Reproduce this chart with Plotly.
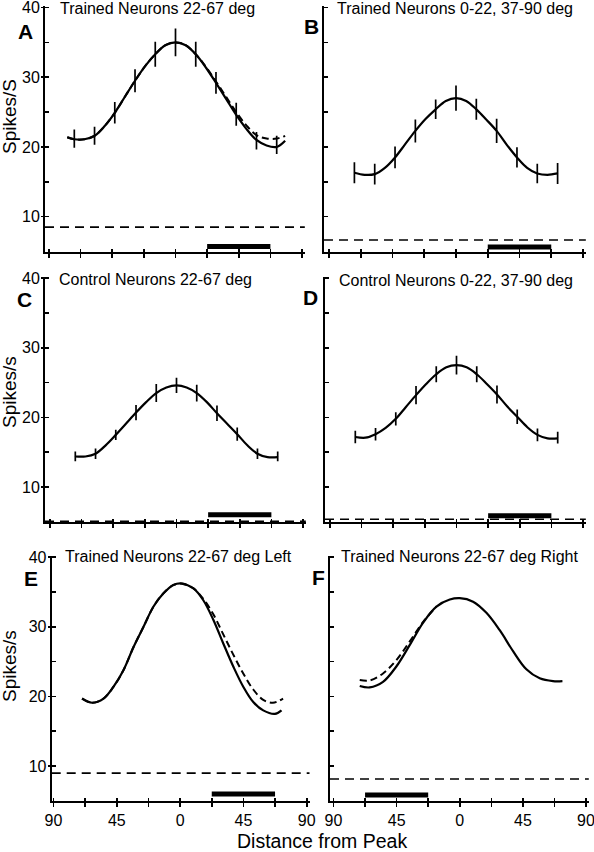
import plotly.graph_objects as go

W, H = 594, 852
FONT = "Liberation Sans, Arial, Helvetica, sans-serif"

# ---------------- data ----------------
angles = [-72, -57.6, -43.2, -28.8, -14.4, 0, 14.4, 28.8, 43.2, 57.6, 72]
fit_x = [-72, -64.8, -57.6, -50.4, -43.2, -36, -28.8, -21.6, -14.4, -7.2, 0,
         7.2, 14.4, 21.6, 28.8, 36, 43.2, 50.4, 57.6, 64.8, 72]

a_means = [21.2, 21.6, 24.9, 29.5, 33.3, 35.0, 33.3, 29.2, 24.7, 20.9, 20.3]
a_err = [1.3, 1.3, 1.55, 1.65, 1.8, 2.0, 1.8, 1.55, 1.65, 1.25, 1.3]
a_fit_x = [-77] + fit_x + [78]
a_fit = [21.4, 21.1, 21.1, 21.6, 23.0, 24.9, 27.2, 29.5, 31.6, 33.3, 34.6, 35.0,
         34.6, 33.3, 31.4, 29.2, 26.9, 24.6, 22.6, 21.0, 20.2, 20.0, 20.9]
a_alt = [21.4, 21.1, 21.1, 21.6, 23.0, 24.9, 27.2, 29.5, 31.6, 33.3, 34.6, 35.0,
         34.6, 33.3, 31.5, 29.4, 27.2, 25.0, 23.1, 21.7, 21.2, 21.2, 21.6]

b_means = [16.3, 16.1, 18.5, 22.3, 25.4, 27.0, 25.4, 22.3, 18.5, 16.2, 16.2]
b_err = [1.5, 1.5, 1.55, 1.65, 1.4, 1.8, 1.5, 1.75, 1.45, 1.4, 1.5]
b_fit = [16.3, 16.0, 16.1, 17.0, 18.5, 20.4, 22.3, 24.0, 25.4, 26.6, 27.0,
         26.6, 25.4, 23.9, 22.3, 20.3, 18.5, 17.0, 16.2, 16.0, 16.2]

c_means = [14.4, 14.8, 17.5, 20.7, 23.5, 24.6, 23.5, 20.6, 17.6, 14.8, 14.4]
c_err = [0.7, 0.75, 0.75, 1.1, 1.3, 1.1, 1.2, 1.1, 0.95, 0.75, 0.7]
c_fit = [14.4, 14.4, 14.8, 16.0, 17.5, 19.1, 20.7, 22.2, 23.5, 24.3, 24.6,
         24.3, 23.5, 22.2, 20.6, 19.1, 17.6, 16.0, 14.8, 14.3, 14.3]

d_means = [17.2, 17.6, 19.8, 23.2, 26.2, 27.5, 26.2, 23.3, 20.1, 17.5, 17.1]
d_err = [0.9, 0.9, 0.95, 1.3, 1.15, 1.35, 1.15, 1.3, 1.05, 0.9, 0.85]
d_fit = [17.2, 17.1, 17.6, 18.5, 19.8, 21.5, 23.2, 24.8, 26.2, 27.2, 27.5,
         27.2, 26.2, 24.8, 23.3, 21.6, 20.1, 18.6, 17.5, 17.0, 17.0]

e_fit_x = [-69.7, -62.6, -54.4, -47.3, -40.2, -33.1, -26.0, -18.9, -11.8, -4.7, 1.2,
           9.5, 16.5, 23.6, 30.7, 37.8, 44.9, 52.0, 59.1, 67.4, 72.1]
e_fit = [19.7, 19.1, 19.7, 21.4, 23.8, 27.1, 30.0, 32.9, 34.8, 36.0, 36.2,
         35.5, 33.8, 31.0, 27.6, 24.3, 21.4, 19.2, 18.0, 17.5, 18.0]
e_alt_x = [-69.7, -62.6, -54.4, -47.3, -40.2, -33.1, -26.0, -18.9, -11.8, -4.7, 1.2,
           9.5, 16.5, 23.6, 30.7, 37.8, 44.9, 52.0, 59.1, 66.0, 73.2]
e_alt = [19.7, 19.1, 19.7, 21.4, 23.8, 27.1, 30.0, 32.9, 34.8, 36.0, 36.2,
         35.5, 34.0, 31.8, 28.9, 26.0, 23.3, 21.0, 19.5, 19.1, 19.7]

f_fit_x = [-71.3, -64.2, -54.7, -45.2, -35.6, -26.1, -16.6, -7.1, 0, 9.5, 19.0,
           28.5, 38.0, 47.5, 57.0, 66.5, 73.2]
f_fit = [21.5, 21.3, 22.1, 24.3, 27.4, 30.6, 32.9, 33.9, 34.1, 33.6, 32.0,
         29.5, 26.5, 23.9, 22.6, 22.2, 22.2]
f_alt_x = [-71.3, -64.2, -54.7, -45.2, -35.6, -26.1, -16.6]
f_alt = [22.35, 22.3, 23.3, 25.2, 27.9, 30.7, 32.9]

titles = ["Trained Neurons 22-67 deg", "Trained Neurons 0-22, 37-90 deg",
          "Control Neurons 22-67 deg", "Control Neurons 0-22, 37-90 deg",
          "Trained Neurons 22-67 deg Left", "Trained Neurons 22-67 deg Right"]
letters = ["A", "B", "C", "D", "E", "F"]
ylabels = ["Spikes/S", "Spikes/s", "Spikes/s"]
xlabel = "Distance from Peak"
baselines = [8.5, 6.65, 5.1, 5.4, 9.0, 8.15]
stim_ranges = [[22.5, 67.5], [22.5, 67.5], [22.5, 67.5], [22.5, 67.5],
               [22.5, 67.5], [-67.5, -22.5]]
stim_levels = [5.7, 5.65, 6.05, 5.9, 6.0, 5.85]
x_tickvals = [-90, -67.5, -45, -22.5, 0, 22.5, 45, 67.5, 90]
x_ticktext = ["90", "", "45", "", "0", "", "45", "", "90"]
y_tickvals = [10, 15, 20, 25, 30, 35, 40]
y_ticktext = ["10", "", "20", "", "30", "", "40"]
y_major = [10, 20, 30, 40]

errbars = [(a_means, a_err), (b_means, b_err), (c_means, c_err), (d_means, d_err), None, None]
fits = [(a_fit_x, a_fit), (fit_x, b_fit), (fit_x, c_fit), (fit_x, d_fit),
        (e_fit_x, e_fit), (f_fit_x, f_fit)]
alts = [(a_fit_x, a_alt), None, None, None, (e_alt_x, e_alt), (f_alt_x, f_alt)]

# ---------------- layout geometry (pixels) ----------------
# (y-axis x position, x of -90 tick, x of +90 tick, row)
geo = [(45, 49, 302, 0), (324, 329, 583, 0),
       (45, 50, 303, 1), (325, 330, 583, 1),
       (51.7, 53.5, 306.7, 2), (330, 333.5, 586, 2)]
row_y5 = [251.5, 522, 801]
PXU = 6.97
YTOP = 40.2

fig = go.Figure()
layout = {}


def aname(kind, n):
    return kind if n == 1 else f"{kind}{n}"


for i in range(6):
    n = i + 1
    xid, yid = aname("x", n), aname("y", n)
    ox, oy = n + 6, n + 6
    yx, xm, xp, row = geo[i]
    s = (xp - xm) / 180.0
    xr = [-90 - (xm - yx) / s, 92]
    xdom = [yx / W, (xp + 2 * s) / W]
    y5 = row_y5[row]
    ytop_px = y5 - (YTOP - 5) * PXU
    ydom = [1 - y5 / H, 1 - ytop_px / H]
    bottom = row == 2
    left = i % 2 == 0

    layout[aname("xaxis", n)] = dict(
        domain=xdom, range=xr, anchor=yid, showgrid=False, zeroline=False,
        automargin=False, ticklabeloverflow="allow",
        showline=True, linecolor="black", linewidth=2,
        tickmode="array", tickvals=x_tickvals, ticktext=x_ticktext,
        ticks="outside", ticklen=4, tickwidth=1.6, tickcolor="black",
        showticklabels=bottom, tickfont=dict(size=16, color="black", family=FONT))
    layout[aname("yaxis", n)] = dict(
        domain=ydom, range=[5, YTOP], anchor=xid, showgrid=False, zeroline=False,
        automargin=False, ticklabeloverflow="allow",
        showline=True, linecolor="black", linewidth=2,
        tickmode="array", tickvals=y_tickvals, ticktext=y_ticktext,
        ticks="inside", ticklen=4, tickwidth=1.6, tickcolor="black",
        showticklabels=left, tickfont=dict(size=16, color="black", family=FONT))
    # overlay axes giving the crossing tick marks
    layout[f"xaxis{ox}"] = dict(
        overlaying=xid, anchor=yid, range=xr, showgrid=False, zeroline=False,
        automargin=False,
        showline=False, tickmode="array", tickvals=x_tickvals, ticks="inside",
        ticklen=3, tickwidth=1.6, tickcolor="black", showticklabels=False)
    layout[f"yaxis{oy}"] = dict(
        overlaying=yid, anchor=xid, range=[5, YTOP], showgrid=False, zeroline=False,
        automargin=False,
        showline=False, tickmode="array", tickvals=y_major if left else [],
        ticks="outside" if left else "", ticklen=3, tickwidth=1.6, tickcolor="black",
        showticklabels=False)
    fig.add_trace(go.Scatter(x=[], y=[], xaxis=f"x{ox}", yaxis=f"y{oy}",
                             showlegend=False, hoverinfo="skip"))

    # baseline (spontaneous rate)
    fig.add_shape(type="line", xref=f"{xid} domain", yref=yid, x0=0, x1=1,
                  y0=baselines[i], y1=baselines[i],
                  line=dict(color="black", width=1.6, dash="9px,6px"), layer="above")
    # stimulus bar
    fig.add_trace(go.Scatter(x=stim_ranges[i], y=[stim_levels[i]] * 2, mode="lines",
                             line=dict(color="black", width=5), xaxis=xid, yaxis=yid,
                             showlegend=False))
    # alternate (dashed) fit
    if alts[i] is not None:
        ax_, ay_ = alts[i]
        fig.add_trace(go.Scatter(x=ax_, y=ay_, mode="lines",
                                 line=dict(color="black", width=2, dash="7px,4px",
                                           shape="spline", smoothing=1.0),
                                 xaxis=xid, yaxis=yid, showlegend=False))
    fx, fy = fits[i]
    fig.add_trace(go.Scatter(x=fx, y=fy, mode="lines",
                             line=dict(color="black", width=2.2, shape="spline",
                                       smoothing=1.0),
                             xaxis=xid, yaxis=yid, showlegend=False))
    if errbars[i] is not None:
        m, e = errbars[i]
        fig.add_trace(go.Scatter(x=angles, y=m, mode="markers",
                                 marker=dict(size=1, color="black"),
                                 error_y=dict(type="data", array=e, visible=True,
                                              width=0, thickness=1.7, color="black"),
                                 xaxis=xid, yaxis=yid, showlegend=False))

annotations = []


def px(x, y):
    return x / W, 1 - y / H


title_pos = [(58, 9), (335, 9), (57, 279), (337, 280), (63, 556), (339, 556)]
letter_pos = [(25, 31), (311, 27), (24, 299), (310, 297), (31, 578), (318, 577)]
for i in range(6):
    x, y = px(*title_pos[i])
    annotations.append(dict(text=titles[i], x=x, y=y, xref="paper", yref="paper",
                            xanchor="left", yanchor="middle", showarrow=False,
                            font=dict(size=16, color="black", family=FONT)))
    x, y = px(*letter_pos[i])
    annotations.append(dict(text=f"<b>{letters[i]}</b>", x=x, y=y, xref="paper",
                            yref="paper", xanchor="center", yanchor="middle",
                            showarrow=False,
                            font=dict(size=21, color="black", family=FONT)))

ylab_pos = [(9, 117), (9, 392), (9, 666)]
for lab, pos in zip(ylabels, ylab_pos):
    x, y = px(*pos)
    annotations.append(dict(text=lab, x=x, y=y, xref="paper", yref="paper",
                            xanchor="center", yanchor="middle", textangle=-90,
                            showarrow=False,
                            font=dict(size=19, color="black", family=FONT)))

x, y = px(322, 841)
annotations.append(dict(text=xlabel, x=x, y=y, xref="paper", yref="paper",
                        xanchor="center", yanchor="middle", showarrow=False,
                        font=dict(size=19.5, color="black", family=FONT)))

fig.update_layout(
    width=W, height=H, autosize=False,
    margin=dict(l=0, r=0, t=0, b=0, pad=0),
    paper_bgcolor="white", plot_bgcolor="white",
    showlegend=False, annotations=annotations,
    font=dict(family=FONT, color="black"),
    **layout)

fig.write_html("out.html",
               config={"displayModeBar": False, "staticPlot": True},
               post_script="document.body.style.margin='0';"
                           "document.body.style.padding='0';"
                           "document.body.style.overflow='hidden';")
